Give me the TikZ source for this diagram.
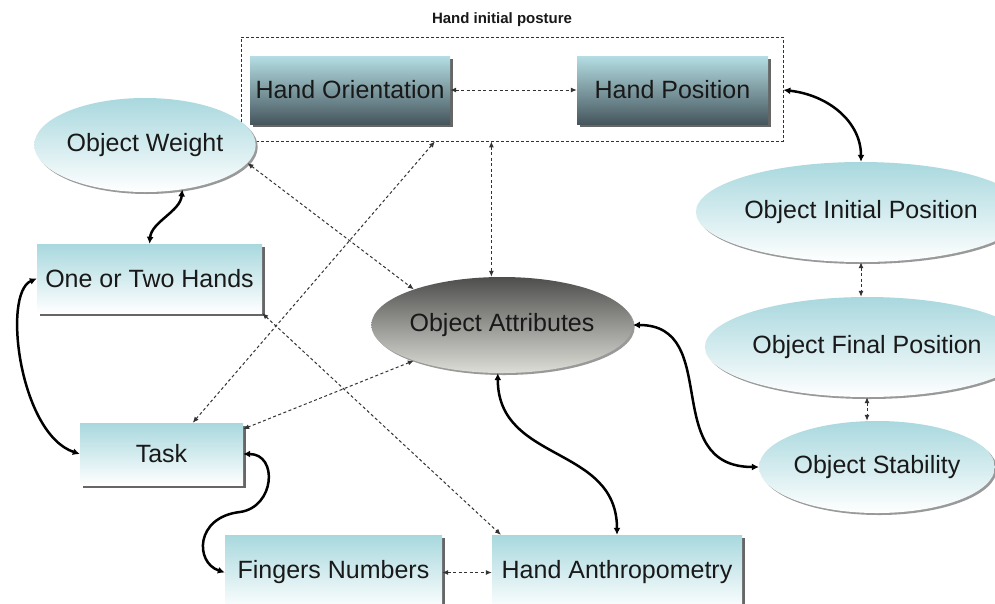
\documentclass[tikz,border=0pt]{standalone}
\usepackage{fontspec}
\setmainfont{Liberation Sans}
\usetikzlibrary{calc,arrows.meta,shapes.geometric,shadows}
\definecolor{cyanT}{RGB}{168,216,222}
\definecolor{hoTop}{RGB}{180,222,228}
\definecolor{hoBot}{RGB}{70,86,93}
\definecolor{oaTop}{RGB}{78,78,76}
\definecolor{oaBot}{RGB}{222,222,216}
\definecolor{txt}{RGB}{25,25,25}
\tikzset{
  lbl/.style={font=\fontsize{25}{30}\selectfont, text=txt, inner sep=0pt},
  boxshadow/.style={drop shadow={shadow xshift=3pt,shadow yshift=-3pt,fill=black!60,opacity=1}},
  ellshadow/.style={drop shadow={shadow xshift=2pt,shadow yshift=-2pt,fill=black!40,opacity=1}},
  cyanbox/.style={lbl, rectangle, top color=cyanT, bottom color=white, boxshadow},
  darkbox/.style={lbl, rectangle, top color=hoTop, bottom color=hoBot, boxshadow},
  cyanell/.style={lbl, ellipse, top color=cyanT, bottom color=white, ellshadow},
  grayell/.style={lbl, ellipse, top color=oaTop, bottom color=oaBot, ellshadow},
  dotlink/.style={line width=1pt, draw=black!80, dash pattern=on 3pt off 2.5pt,
    {Latex[length=6pt,width=5pt]}-{Latex[length=6pt,width=5pt]}},
  thicklink/.style={line width=2.5pt, draw=black,
    {Latex[length=7pt,width=7pt]}-{Latex[length=7pt,width=7pt]}},
  groupbox/.style={rectangle, draw=black!80, line width=0.8pt, dash pattern=on 3pt off 2pt, inner sep=0pt}
}
\begin{document}
\begin{tikzpicture}[x=1pt,y=-1pt]
\clip (0,0) rectangle (995,603);
\fill[white] (0,0) rectangle (995,603);

% group box
\node[groupbox, minimum width=542pt, minimum height=104pt] (post) at (512,89) {};
\node[font=\bfseries\fontsize{15}{18}\selectfont, text=txt] (title) at (502,20) {Hand initial posture};

% nodes
\node[darkbox, minimum width=200pt, minimum height=68pt] (ho) at (350,90) {Hand Orientation};
\node[darkbox, minimum width=191pt, minimum height=68pt] (hp) at (672.5,90) {Hand Position};
\node[cyanell, minimum width=180pt, minimum height=94pt] (ow) at (145,145) {Object Weight};
\node[cyanbox, minimum width=225pt, minimum height=69pt] (oth) at (149.5,278.5) {One or Two Hands};
\node[cyanbox, minimum width=163pt, minimum height=62pt] (task) at (161.5,454) {Task};
\node[cyanbox, minimum width=217pt, minimum height=75pt] (fn) at (333.5,572.5) {Fingers Numbers};
\node[cyanbox, minimum width=250pt, minimum height=75pt] (ha) at (617,572.5) {Hand Anthropometry};
\node[grayell, minimum width=210pt, minimum height=96pt] (oa) at (502,325) {Object Attributes};
\node[cyanell, minimum width=258pt, minimum height=100pt] (oip) at (861,212) {Object Initial Position};
\node[cyanell, minimum width=250pt, minimum height=100pt] (ofp) at (867,347) {Object Final Position};
\node[cyanell, minimum width=190pt, minimum height=92pt] (os) at (877,467) {Object Stability};

\coordinate (pA) at ($(post.south west)!0.358!(post.south east)$);
\coordinate (pB) at ($(post.south west)!0.462!(post.south east)$);
\coordinate (tfmid) at (240,512);

% dotted links
\draw[dotlink] (ho.east) -- (hp.west);
\draw[dotlink] (fn.east) -- (ha.west);
\draw[dotlink] (oip.south) -- (oip.south |- ofp.north);
\draw[dotlink] (ofp.south) -- (ofp.south |- os.north);
\draw[dotlink] (ow.-10) -- (oa.158);
\draw[dotlink] (oth.south east) -- (ha.162);
\draw[dotlink] (pA) -- (task.45);
\draw[dotlink] (pB) -- (pB |- oa.north);
\draw[dotlink] (oa.202) -- (task.17);

% thick links
\draw[thicklink] (post.east |- hp.east) .. controls +(45,5) and +(0,-40) .. (oip.north);
\draw[thicklink] (oa.east) .. controls +(90,0) and +(-100,0) .. (os.west);
\draw[thicklink] (oa.-95) .. controls +(0,90) and +(0,-90) .. (ha.north);
\draw[thicklink] (ow.-50) .. controls +(-2,22) and +(2,-22) .. (oth.north);
\draw[thicklink] (oth.west) .. controls +(-35,15) and +(-60,-20) .. (task.west);
\draw[thicklink] (task.east) .. controls +(35,0) and +(35,-5) .. (tfmid) .. controls +(-45,5) and +(-30,-10) .. (fn.west);
\end{tikzpicture}
\end{document}
